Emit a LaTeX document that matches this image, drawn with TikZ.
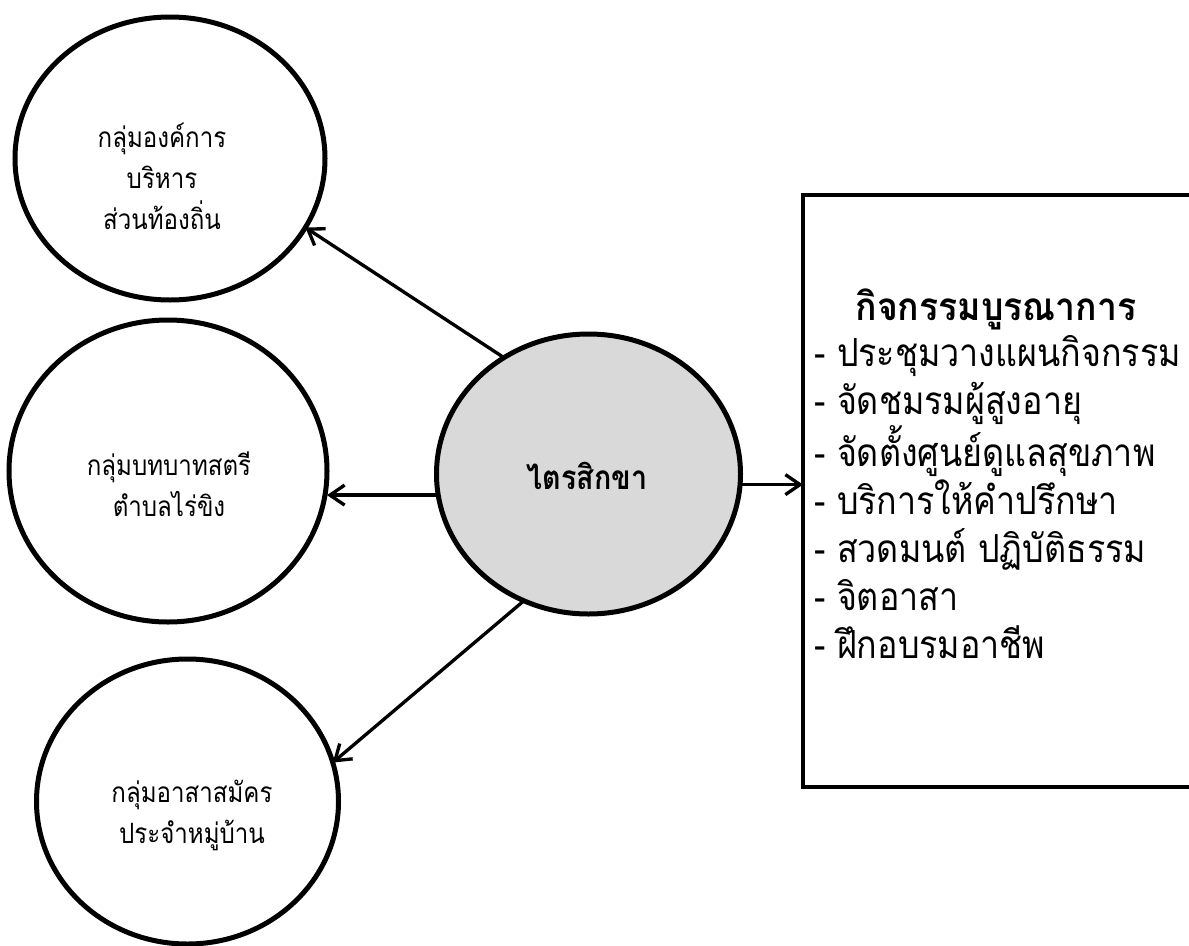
\documentclass[tikz,border=0pt]{standalone}
\usepackage{fontspec}
\setmainfont[Script=Thai]{Loma}
% condensed cuts of the Thai face for the labels
\newfontfamily\grouplabel[Script=Thai,FakeStretch=0.86]{Loma}
\newfontfamily\hublabel[Script=Thai,FakeStretch=0.86]{Loma}
\newfontfamily\boxhead[Script=Thai,FakeStretch=0.92]{Loma}
\newfontfamily\boxitems[Script=Thai,FakeStretch=0.88]{Loma}
\usetikzlibrary{shapes.geometric,arrows.meta}
\definecolor{hubfill}{HTML}{D9D9D9}
\begin{document}
\begin{tikzpicture}[x=0.75pt,y=-0.75pt,
  ring/.style={ellipse,draw,line width=3.75pt,inner sep=0pt,outer sep=0pt},
  grouptext/.style={align=center,font=\grouplabel\fontsize{21}{30.75}\selectfont},
  arr/.style={line width=2.5pt,-{Straight Barb[length=11pt,width=15pt,line width=2.5pt]}}]
\clip (0,0) rectangle (1189,946);
\fill[white] (0,0) rectangle (1189,946);

% three partner groups
\node[ring,minimum width=232.5pt,minimum height=212.25pt] (c1) at (170,158.5) {};
\node[ring,minimum width=238.5pt,minimum height=226.5pt] (c2) at (168,471) {};
\node[ring,minimum width=226.5pt,minimum height=213.75pt] (c3) at (187.5,801.5) {};
\node[grouptext] (t1) at (162,176) {กลุ่มองค์การ\\บริหาร\\ส่วนท้องถิ่น};
\node[grouptext] (t2) at (169,484) {กลุ่มบทบาทสตรี\\ตำบลไร่ขิง};
\node[grouptext] (t3) at (192,815) {กลุ่มอาสาสมัคร\\ประจำหมู่บ้าน};

% hub
\node[ring,fill=hubfill,minimum width=228pt,minimum height=210pt] (hub) at (588.5,474) {};
\node[font=\hublabel\bfseries\fontsize{25}{30}\selectfont] (hubt) at (587,476) {ไตรสิกขา};

% activity box
\node[draw,line width=3.4pt,inner sep=0pt,outer sep=0pt,anchor=north west,
      minimum width=315pt,minimum height=444pt] (box) at (803,195) {};
\node[font=\boxhead\bfseries\fontsize{29}{36}\selectfont] (title) at (996,309) {กิจกรรมบูรณาการ};
\node[anchor=north west,align=left,inner sep=0pt,font=\boxitems\fontsize{29}{36}\selectfont] (list) at (814,335)
  {- ประชุมวางแผนกิจกรรม\\- จัดชมรมผู้สูงอายุ\\- จัดตั้งศูนย์ดูแลสุขภาพ\\- บริการให้คำปรึกษา\\- สวดมนต์ ปฏิบัติธรรม\\- จิตอาสา\\- ฝึกอบรมอาชีพ};

% connectors
\draw[arr] (hub.126.4) -- (c1.333.4);
\draw[arr] (hub.188) -- (hub.188 -| c2.east);
\draw[arr] (hub.243.1) -- (c3.15.3);
\draw[arr] (hub.356.2) -- (hub.356.2 -| box.west);
\end{tikzpicture}
\end{document}
